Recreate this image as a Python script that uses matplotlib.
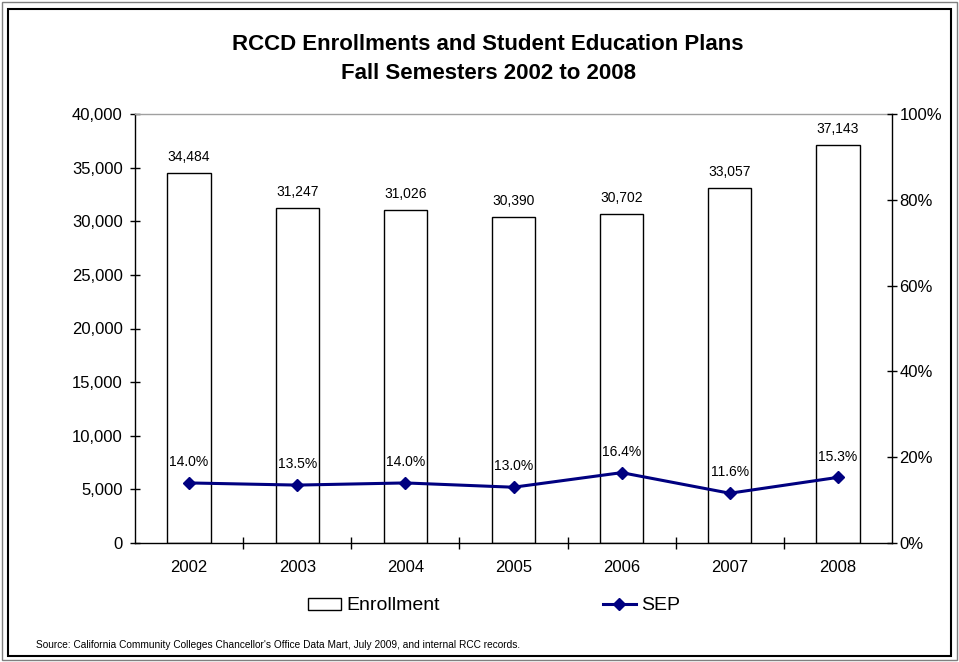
import numpy as np
import matplotlib
matplotlib.use("Agg")
import matplotlib.pyplot as plt
from matplotlib.patches import Rectangle
from matplotlib.lines import Line2D
from matplotlib.ticker import FuncFormatter, FixedLocator

plt.rcParams["font.family"] = ["Liberation Sans", "DejaVu Sans"]

years = ["2002", "2003", "2004", "2005", "2006", "2007", "2008"]
enrollment = [34484, 31247, 31026, 30390, 30702, 33057, 37143]
sep_pct = [14.0, 13.5, 14.0, 13.0, 16.4, 11.6, 15.3]

fig = plt.figure(figsize=(9.59, 6.62), dpi=100)
W, H = 959, 662

# plot area in pixels: left, right, top, bottom
L, R, T, B = 135, 892, 114, 543
ax = fig.add_axes([L / W, 1 - B / H, (R - L) / W, (B - T) / H])
ax2 = ax.twinx()

x = np.arange(len(years))

# enrollment bars
ax.bar(x, enrollment, width=0.4, color="white", edgecolor="black",
       linewidth=1.0, zorder=2)
for xi, v in zip(x, enrollment):
    ax.annotate(f"{v:,}", (xi, v), xytext=(0, 11.5), textcoords="offset points",
                ha="center", va="center", fontsize=10)

ax.set_xlim(-0.5, len(years) - 0.5)
ax.set_ylim(0, 40000)
ax.set_yticks(np.arange(0, 40001, 5000))
ax.yaxis.set_major_formatter(FuncFormatter(lambda v, p: f"{int(v):,}"))
ax.tick_params(axis="y", direction="inout", length=6.5, width=1.0,
               labelsize=12, pad=5.5)

# year labels centred, ticks on category boundaries
ax.set_xticks(x)
ax.set_xticklabels(years)
ax.xaxis.set_minor_locator(FixedLocator(np.arange(0.5, len(years) - 0.5, 1)))
ax.tick_params(axis="x", which="major", length=0, labelsize=12, pad=12)
ax.tick_params(axis="x", which="minor", direction="inout", length=8, width=1.0)

for s in ["left", "bottom"]:
    ax.spines[s].set_color("black")
    ax.spines[s].set_linewidth(1.0)
ax.spines["right"].set_visible(False)
ax.spines["top"].set_color("#a0a0a0")
ax.spines["top"].set_linewidth(1.0)

# SEP line on percent axis
ax2.plot(x, sep_pct, color="#000080", linewidth=2.2, marker="D",
         markersize=6.5, zorder=3)
for xi, v in zip(x, sep_pct):
    ax2.annotate(f"{v:.1f}%", (xi, v), xytext=(0, 15), textcoords="offset points",
                 ha="center", va="center", fontsize=10)
ax2.set_ylim(0, 100)
ax2.set_yticks(np.arange(0, 101, 20))
ax2.yaxis.set_major_formatter(FuncFormatter(lambda v, p: f"{int(v)}%"))
ax2.tick_params(axis="y", direction="inout", length=6.5, width=1.0,
                labelsize=12, pad=2)
for s in ["left", "top", "bottom"]:
    ax2.spines[s].set_visible(False)
ax2.spines["right"].set_color("black")
ax2.spines["right"].set_linewidth(1.0)

# title
fig.text(488 / W, 1 - 59 / H,
         "RCCD Enrollments and Student Education Plans\nFall Semesters 2002 to 2008",
         ha="center", va="center", fontsize=16, fontweight="bold", linespacing=1.45)

# legend
handles = [
    Rectangle((0, 0), 1, 1, facecolor="white", edgecolor="black", linewidth=1.0),
    Line2D([], [], color="#000080", linewidth=2.2, marker="D", markersize=6.5),
]
fig.legend(handles, ["Enrollment", "SEP"], loc="center",
           bbox_to_anchor=(494 / W, 1 - 606 / H), ncol=2, frameon=False,
           fontsize=14, handlelength=1.7, handleheight=0.57, handletextpad=0.26,
           columnspacing=8.4)

# source note
fig.text(36 / W, 1 - 645 / H,
         "Source: California Community Colleges Chancellor's Office Data Mart, "
         "July 2009, and internal RCC records.",
         ha="left", va="center", fontsize=7.3)

# double frame around the chart
fig.patches.append(Rectangle((2 / W, 2 / H), (W - 4) / W, (H - 4) / H,
                             transform=fig.transFigure, fill=False,
                             edgecolor="#808080", linewidth=1.0))
fig.patches.append(Rectangle((8 / W, 1 - 656 / H), (951 - 8) / W, (656 - 9) / H,
                             transform=fig.transFigure, fill=False,
                             edgecolor="black", linewidth=1.5))

fig.savefig("out.png", dpi=100)
